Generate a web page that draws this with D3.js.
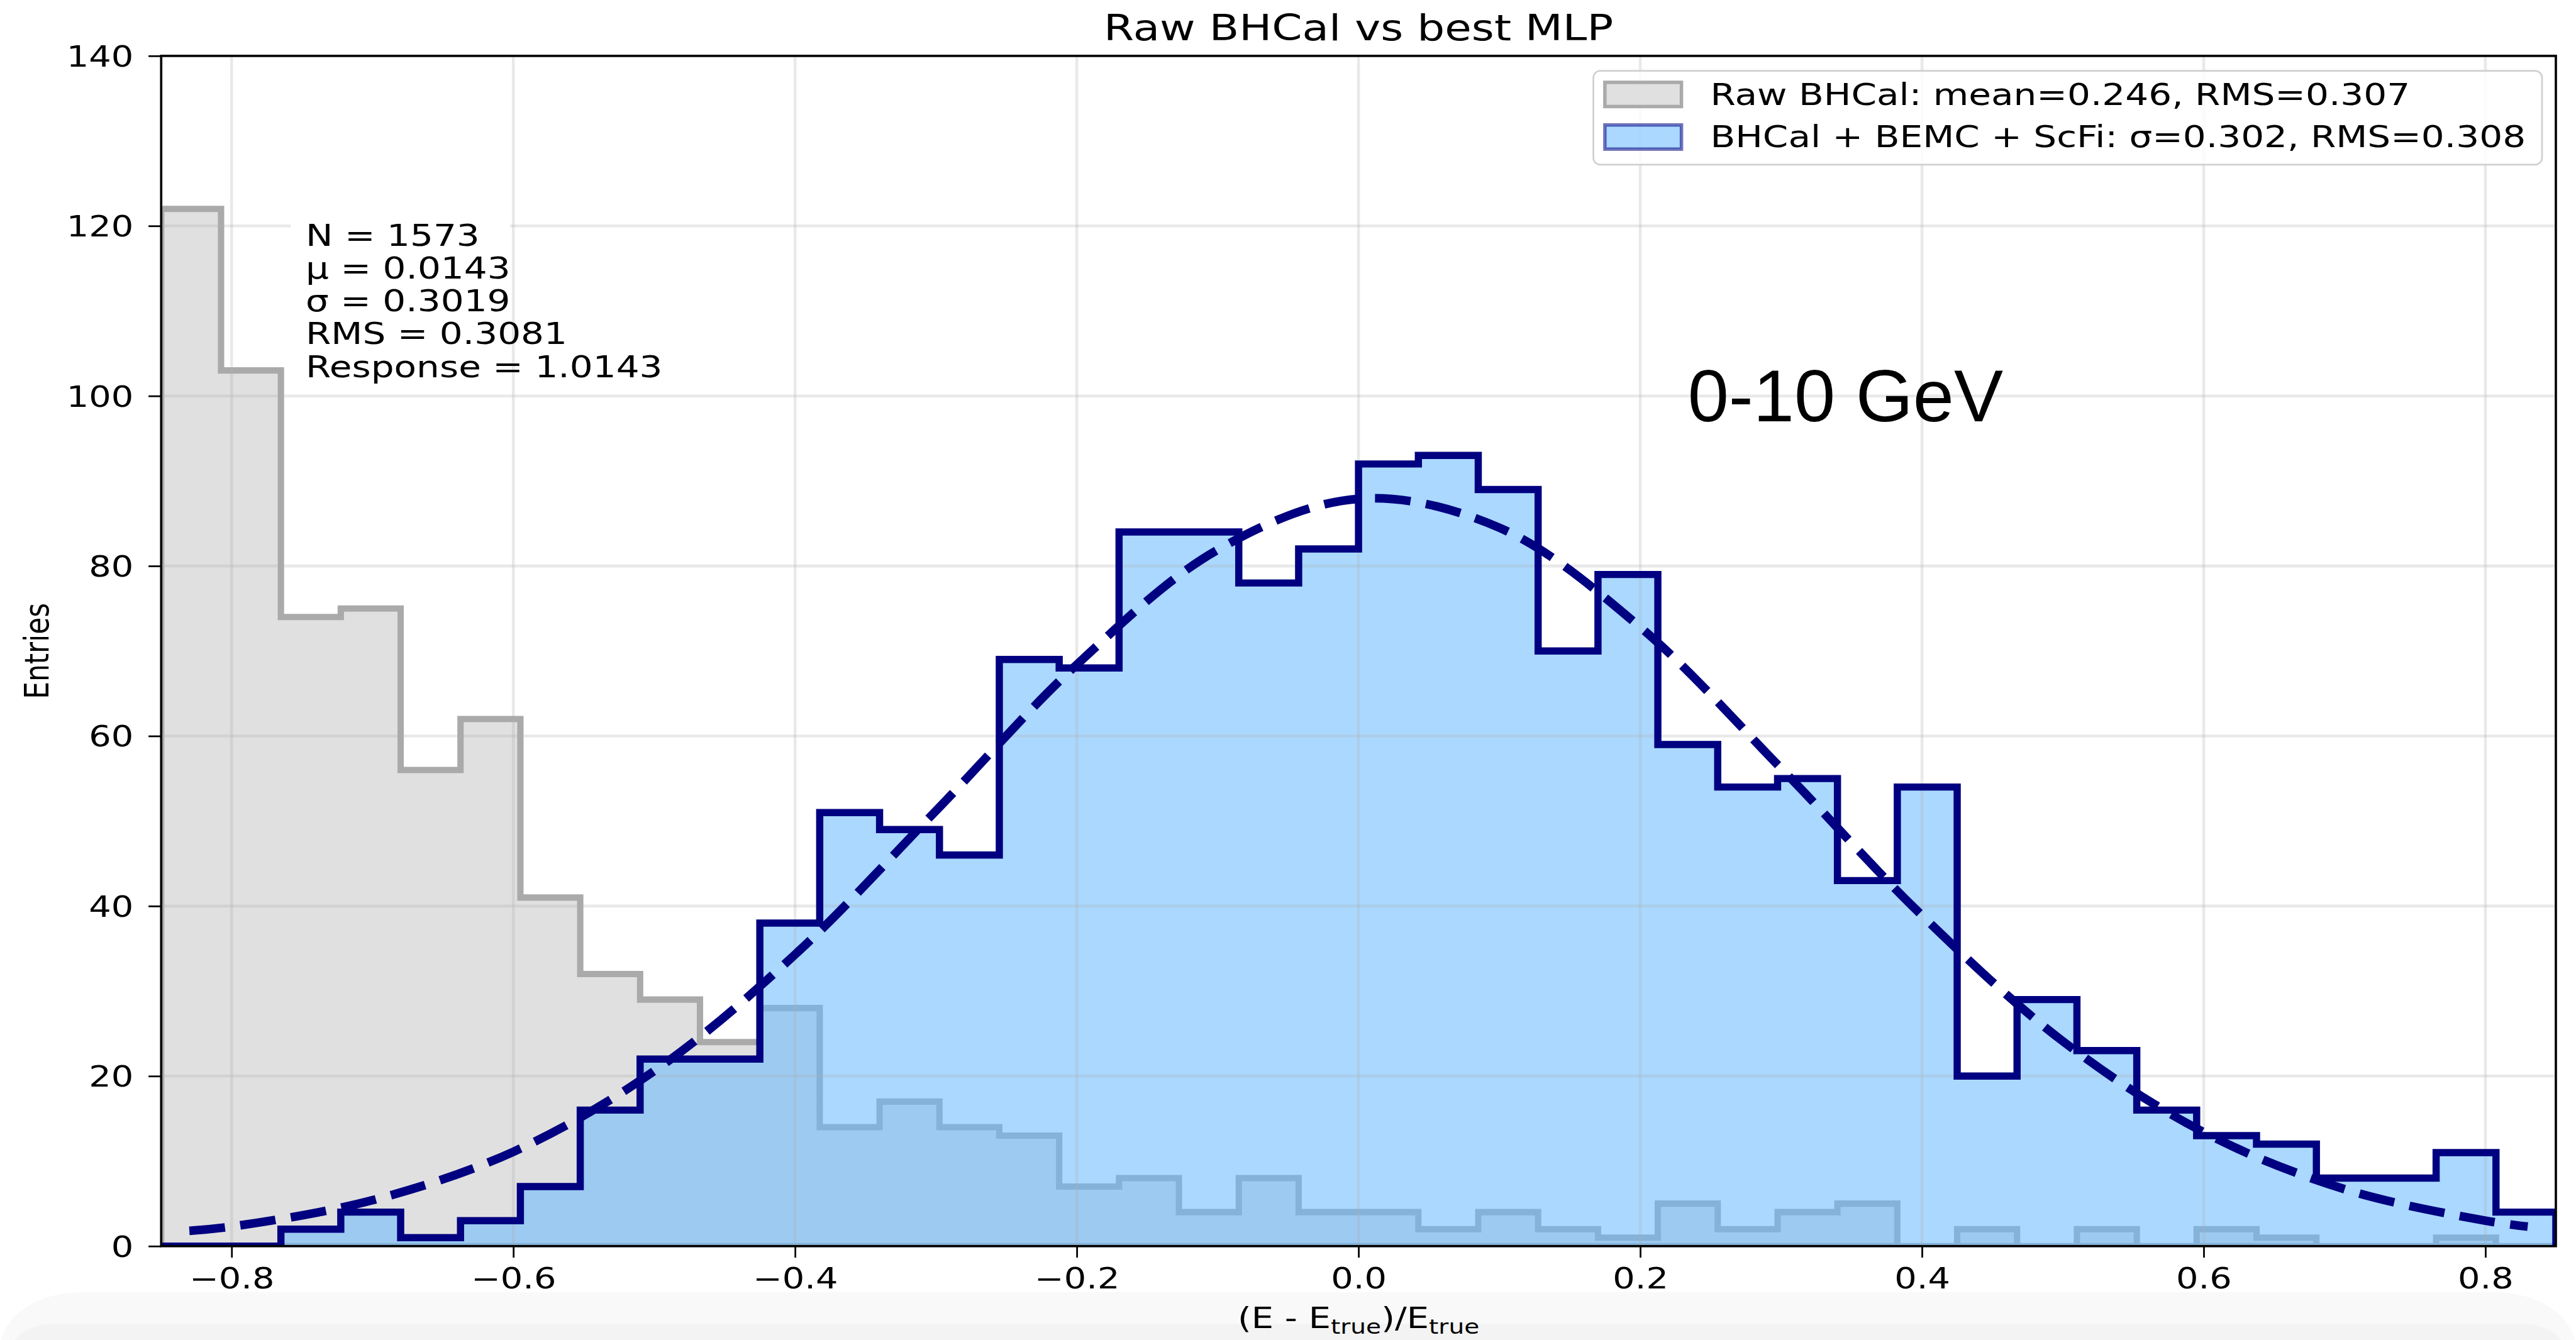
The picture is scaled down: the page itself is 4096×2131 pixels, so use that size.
<!DOCTYPE html>
<html>
<head>
<meta charset="utf-8">
<script src="https://cdn.jsdelivr.net/npm/d3@7"></script>
<style>
html, body { margin: 0; padding: 0; background: #fff; overflow: hidden; }
svg { display: block; }
</style>
</head>
<body>
<svg id="chart"></svg>
<script>
// reference picture size, drawn into the 4096x2131 window through the viewBox
const W = 4475, H = 2328;
const SX = 1.22; // the original png is stretched sideways, text follows it
const font = "DejaVu Sans";

// histogram bins (40 bins between -0.85 and 0.85)
const binEdges = [-0.85, -0.8075, -0.765, -0.7225, -0.68, -0.6375, -0.595, -0.5525, -0.51, -0.4675,
	-0.425, -0.3825, -0.34, -0.2975, -0.255, -0.2125, -0.17, -0.1275, -0.085, -0.0425,
	0, 0.0425, 0.085, 0.1275, 0.17, 0.2125, 0.255, 0.2975, 0.34, 0.3825,
	0.425, 0.4675, 0.51, 0.5525, 0.595, 0.6375, 0.68, 0.7225, 0.765, 0.8075, 0.85];
const rawCounts = [122, 103, 74, 75, 56, 62, 41, 32, 29, 24, 28, 14, 17, 14, 13, 7, 8, 4, 8, 4,
	4, 2, 4, 2, 1, 5, 2, 4, 5, 0, 2, 0, 2, 0, 2, 1, 0, 0, 1, 0];
const mlpCounts = [0, 0, 2, 4, 1, 3, 7, 16, 22, 22, 38, 51, 49, 46, 69, 68, 84, 84, 78, 82,
	92, 93, 89, 70, 79, 59, 54, 55, 43, 54, 20, 29, 23, 16, 13, 12, 8, 8, 11, 4];

// gaussian fit
const fitX = [-0.83, -0.8, -0.7, -0.6, -0.5, -0.4, -0.3, -0.2, -0.1, 0.0, 0.1, 0.2, 0.3, 0.4, 0.5, 0.6, 0.7, 0.8, 0.83];
const fitY = [1.8, 2.3, 5.4, 11.1, 20.6, 34.3, 51.2, 68.4, 81.9, 87.9, 84.5, 72.8, 56.2, 38.9, 24.1, 13.4, 6.7, 3.0, 2.3];

const xTicks = [-0.8, -0.6, -0.4, -0.2, 0.0, 0.2, 0.4, 0.6, 0.8];
const yTicks = [0, 20, 40, 60, 80, 100, 120, 140];

const titleText = "Raw BHCal vs best MLP";
const yLabel = "Entries";
const statsLines = ["N = 1573", "\u03bc = 0.0143", "\u03c3 = 0.3019", "RMS = 0.3081", "Response = 1.0143"];
const legendLabels = ["Raw BHCal: mean=0.246, RMS=0.307", "BHCal + BEMC + ScFi: \u03c3=0.302, RMS=0.308"];
const energyLabel = "0-10 GeV";

var svg = d3.select("#chart")
	.attr("width", 4096).attr("height", 2131)
	.attr("viewBox", `0 0 ${W} ${H}`);

var x = d3.scaleLinear().domain([-0.85, 0.85]).range([280, 4440]);
var y = d3.scaleLinear().domain([0, 140]).range([2165, 97]);
var plotW = x.range()[1] - x.range()[0];
var plotH = y.range()[0] - y.range()[1];

// light grey window edge at the bottom of the screenshot
svg.append("rect").attr("x", 0).attr("y", 2245).attr("width", W).attr("height", 200)
	.attr("rx", 140).attr("fill", "#f9f9f9");
svg.append("rect").attr("x", 0).attr("y", 2300).attr("width", W).attr("height", 200)
	.attr("rx", 90).attr("fill", "#f3f3f3");

svg.append("defs").append("clipPath").attr("id", "plotclip")
	.append("rect").attr("x", x.range()[0]).attr("y", y.range()[1])
	.attr("width", plotW).attr("height", plotH);

var plot = svg.append("g").attr("clip-path", "url(#plotclip)");

// points for step drawing: one per bin plus the closing edge
function stepPoints(counts){
	var pts = counts.map((c, i) => [binEdges[i], c]);
	pts.push([binEdges[counts.length], counts[counts.length - 1]]);
	return pts;
}

var area = d3.area().curve(d3.curveStepAfter)
	.x(d => x(d[0])).y0(y(0)).y1(d => y(d[1]));

plot.append("path").datum(stepPoints(rawCounts))
	.attr("d", area)
	.attr("fill", "#e0e0e0")
	.attr("stroke", "#aaaaaa").attr("stroke-width", 11)
	.attr("stroke-linejoin", "miter");

plot.append("path").datum(stepPoints(mlpCounts))
	.attr("d", area)
	.attr("fill", "rgb(100,184,255)").attr("fill-opacity", 0.55);

// grid
var grid = plot.append("g").attr("stroke", "#b0b0b0").attr("stroke-opacity", 0.28).attr("stroke-width", 5);
grid.selectAll("line.vx").data(xTicks).enter().append("line")
	.attr("x1", d => x(d)).attr("x2", d => x(d))
	.attr("y1", y.range()[0]).attr("y2", y.range()[1]);
grid.selectAll("line.hy").data(yTicks).enter().append("line")
	.attr("x1", x.range()[0]).attr("x2", x.range()[1])
	.attr("y1", d => y(d)).attr("y2", d => y(d));

// white patch behind the stats text
plot.append("rect").attr("x", 505).attr("y", 385).attr("width", 381).attr("height", 25).attr("fill", "#fff");

// outline of the MLP histogram
var stepLine = d3.line().curve(d3.curveStepAfter).x(d => x(d[0])).y(d => y(d[1]));
var mlpPts = stepPoints(mlpCounts);
mlpPts.unshift([binEdges[0], 0]);
mlpPts.push([binEdges[binEdges.length - 1], 0]);
plot.append("path").datum(mlpPts)
	.attr("d", stepLine)
	.attr("fill", "none")
	.attr("stroke", "#000080").attr("stroke-width", 12.5)
	.attr("stroke-linejoin", "miter");

// dashed fit
var fitLine = d3.line().curve(d3.curveCatmullRom).x(d => x(d[0])).y(d => y(d[1]));
plot.append("path").datum(fitX.map((v, i) => [v, fitY[i]]))
	.attr("d", fitLine)
	.attr("fill", "none")
	.attr("stroke", "#000080").attr("stroke-width", 15)
	.attr("stroke-dasharray", "62 27");

// spines
svg.append("rect").attr("x", x.range()[0]).attr("y", y.range()[1])
	.attr("width", plotW).attr("height", plotH)
	.attr("fill", "none").attr("stroke", "#000").attr("stroke-width", 4);

// axes
var xAxis = svg.append("g").attr("transform", `translate(0,${y(0)})`)
	.call(d3.axisBottom(x).tickValues(xTicks).tickFormat(d3.format(".1f")).tickSize(20).tickSizeOuter(0));
var yAxis = svg.append("g").attr("transform", `translate(${x.range()[0]},0)`)
	.call(d3.axisLeft(y).tickValues(yTicks).tickFormat(d3.format("d")).tickSize(22).tickSizeOuter(0));

[xAxis, yAxis].forEach(a => {
	a.select(".domain").remove();
	a.attr("font-family", font).attr("font-size", 50);
	a.selectAll(".tick line").attr("stroke", "#000").attr("stroke-width", 3);
	a.selectAll(".tick text").attr("fill", "#000");
});
xAxis.selectAll(".tick text")
	.attr("y", 0).attr("dy", null)
	.attr("transform", `translate(0,73) scale(${SX},1)`);
yAxis.selectAll(".tick text")
	.attr("x", 0).attr("dy", "0.36em")
	.attr("transform", `translate(-48,0) scale(${SX},1)`);

// labels
function stretchedText(g, tx, ty, size, anchor){
	return g.append("text")
		.attr("transform", `translate(${tx},${ty}) scale(${SX},1)`)
		.attr("font-family", font).attr("font-size", size)
		.attr("text-anchor", anchor).attr("fill", "#000");
}

stretchedText(svg, 2360, 70, 62, "middle").text(titleText);

svg.append("text")
	.attr("transform", `translate(84,1131) scale(${SX},1) rotate(-90)`)
	.attr("font-family", font).attr("font-size", 48)
	.attr("text-anchor", "middle").attr("fill", "#000")
	.text(yLabel);

var xl = stretchedText(svg, 2360, 2307, 50, "middle");
xl.append("tspan").text("(E - E");
xl.append("tspan").attr("font-size", 35).attr("dy", 10).text("true");
xl.append("tspan").attr("dy", -10).text(")/E");
xl.append("tspan").attr("font-size", 35).attr("dy", 10).text("true");

// stats box
var stats = svg.append("g");
statsLines.forEach((s, i) => {
	stretchedText(stats, 531, 427 + i * 57, 52, "start").text(s);
});

// legend
var legend = svg.append("g");
legend.append("rect")
	.attr("x", 2768).attr("y", 123).attr("width", 1648).attr("height", 163).attr("rx", 12)
	.attr("fill", "#fff").attr("fill-opacity", 0.8)
	.attr("stroke", "#d0d0d0").attr("stroke-width", 3);
var patchStyles = [
	{fill: "#e0e0e0", fillOp: 1, stroke: "#aaaaaa", strokeOp: 1},
	{fill: "rgb(100,184,255)", fillOp: 0.55, stroke: "#000080", strokeOp: 0.55}
];
legendLabels.forEach((lab, i) => {
	var top = 143 + i * 74;
	legend.append("rect")
		.attr("x", 2788).attr("y", top).attr("width", 133).attr("height", 42)
		.attr("fill", patchStyles[i].fill).attr("fill-opacity", patchStyles[i].fillOp)
		.attr("stroke", patchStyles[i].stroke).attr("stroke-opacity", patchStyles[i].strokeOp)
		.attr("stroke-width", 6);
	stretchedText(legend, 2971, top + 39, 52, "start").text(lab);
});

// energy range note pasted on the figure
svg.append("text")
	.attr("x", 2932).attr("y", 732)
	.attr("font-family", "Liberation Sans, Arial, sans-serif").attr("font-size", 128)
	.attr("fill", "#000")
	.text(energyLabel);
</script>
</body>
</html>
